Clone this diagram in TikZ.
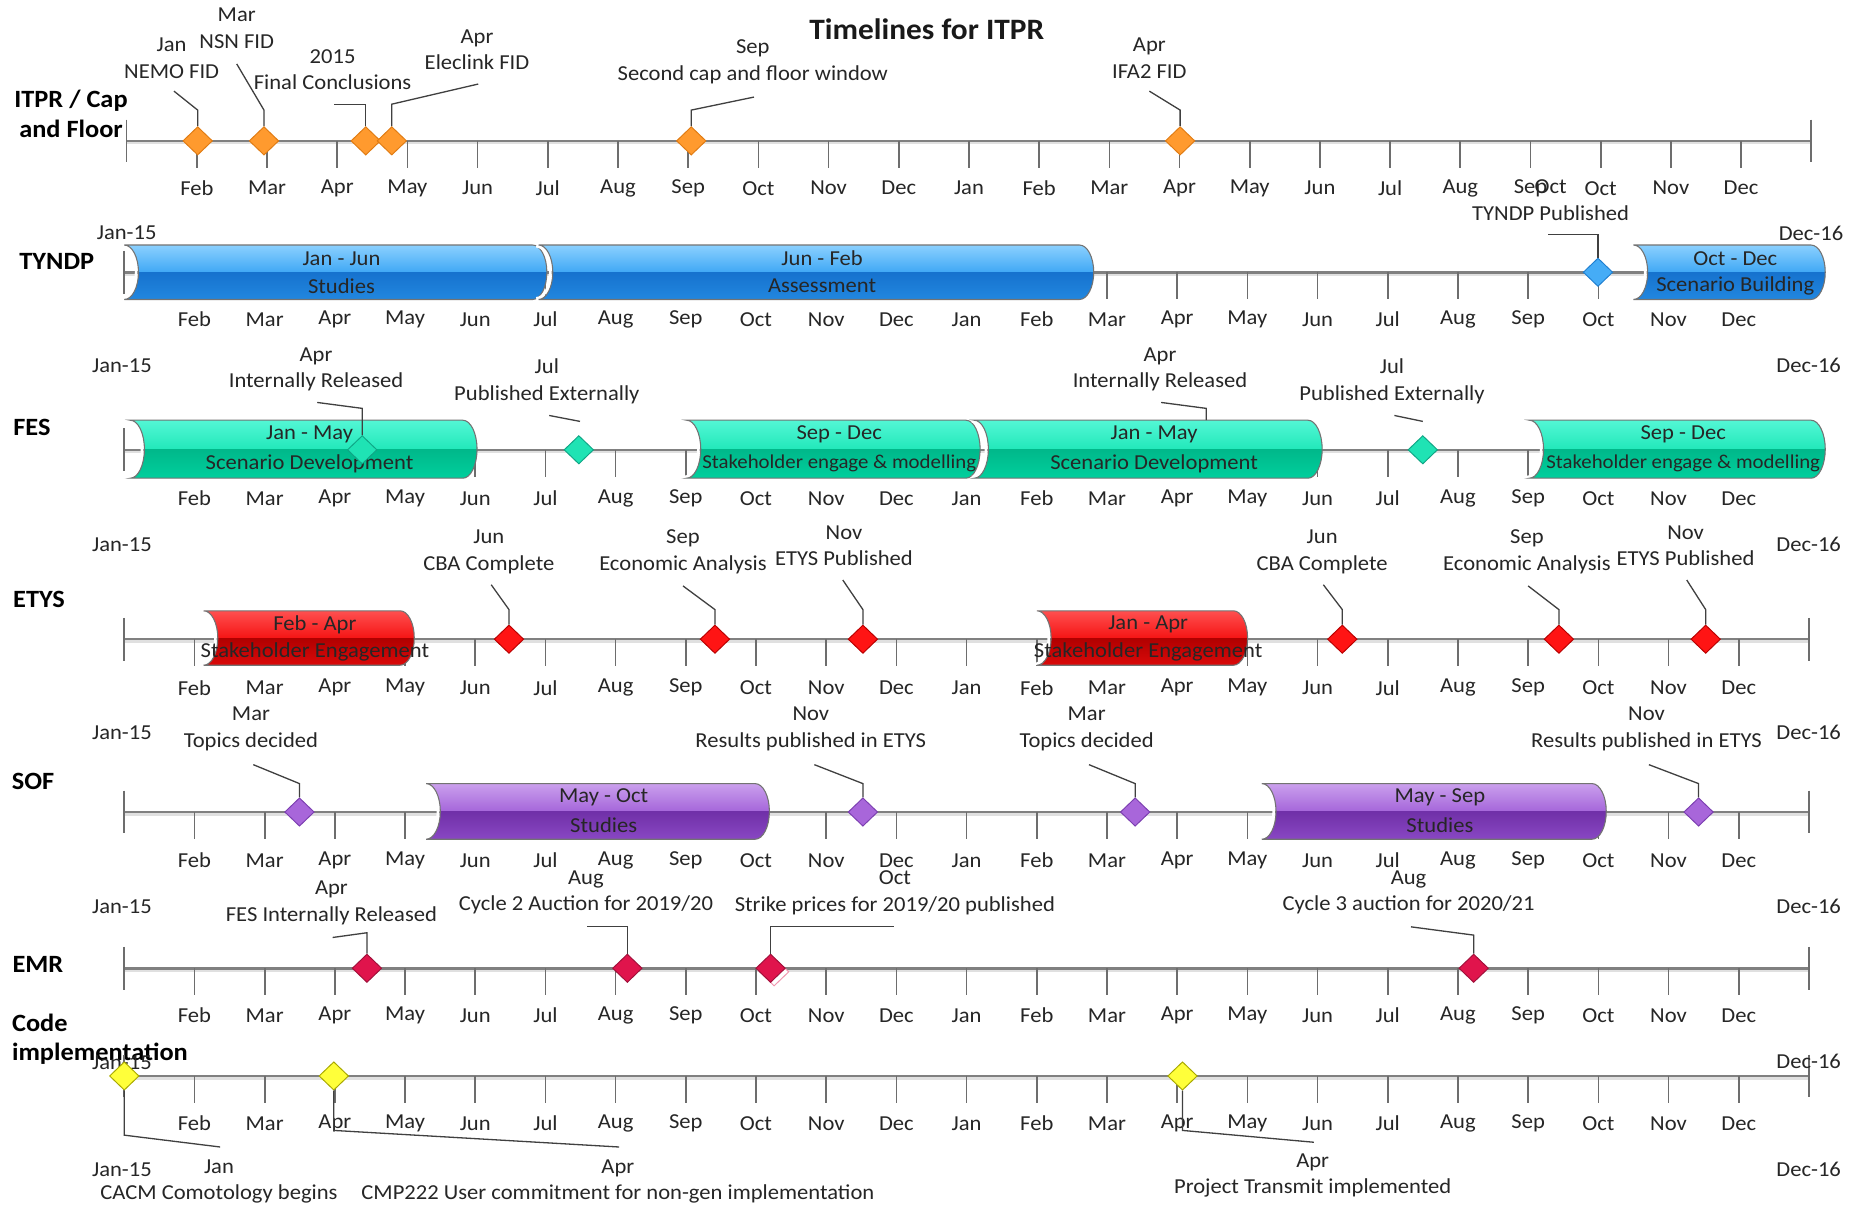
\documentclass[tikz,border=0pt]{standalone}
\usepackage{fontspec}
\setmainfont{Carlito}[FakeStretch=1.06]
\usetikzlibrary{shapes.geometric}
\definecolor{txt}{HTML}{262626}
\definecolor{axisc}{HTML}{808080}
\definecolor{leadc}{HTML}{404040}
\definecolor{orF}{HTML}{FF9A2E}\definecolor{orD}{HTML}{E07B12}
\definecolor{blF}{HTML}{45ACF6}\definecolor{blD}{HTML}{1F7FD0}
\definecolor{tlF}{HTML}{1FE3B4}\definecolor{tlD}{HTML}{0FA585}
\definecolor{rdF}{HTML}{FF1414}\definecolor{rdD}{HTML}{B80000}
\definecolor{puF}{HTML}{A866DA}\definecolor{puD}{HTML}{7B3EB0}
\definecolor{crF}{HTML}{E0144C}\definecolor{crD}{HTML}{A0103A}
\definecolor{yeF}{HTML}{FFFF3A}\definecolor{yeD}{HTML}{A8A800}
% bar colours
\definecolor{blT1}{HTML}{8ED2FF}\definecolor{blT2}{HTML}{40A8F5}\definecolor{blB1}{HTML}{1672CE}\definecolor{blB2}{HTML}{2288E0}
\definecolor{tlT1}{HTML}{55F7D6}\definecolor{tlT2}{HTML}{22E8BA}\definecolor{tlB1}{HTML}{00B88A}\definecolor{tlB2}{HTML}{00D09E}
\definecolor{rdT1}{HTML}{FF5252}\definecolor{rdT2}{HTML}{F51515}\definecolor{rdB1}{HTML}{B00000}\definecolor{rdB2}{HTML}{DC0A0A}
\definecolor{puT1}{HTML}{CCA2EE}\definecolor{puT2}{HTML}{A566DA}\definecolor{puB1}{HTML}{7030A8}\definecolor{puB2}{HTML}{8A48C4}
\newcommand\fs{\fontsize{18}{22.5}\selectfont}
\newcommand\fsm{\fontsize{16.6}{20}\selectfont}
\tikzset{
  mon/.style={font=\fs, text=txt, inner sep=0pt},
  lbl/.style={font=\fs, text=txt, inner sep=0pt, align=center},
  bartxt/.style={font=\fs, text=black!85, inner sep=0pt},
  rowlbl/.style={font=\fontsize{21}{25}\selectfont\bfseries, text=black, inner sep=0pt, align=center},
  axisl/.style={draw=axisc, line width=2.2pt},
  axshadow/.style={draw=black!12, line width=2pt},
  tickl/.style={draw=axisc!85!black, line width=1.4pt},
  lead/.style={draw=leadc, line width=1.1pt},
  dia/.style={diamond, draw=#1D, fill=#1F, minimum width=25pt, minimum height=24pt, inner sep=0pt, line width=0.8pt},
  baroutline/.style={draw=black!55, line width=0.9pt},
}
% axis row: name, x0, y axis, y labels
\newcommand\axisrow[4]{%
  \draw[axshadow] (#2,{#3+2}) -- ({#2+59.3*24},{#3+2});
  \draw[axisl] (#2,#3) -- ({#2+59.3*24},#3);
  \draw[tickl] (#2,{#3-18}) -- (#2,{#3+18});
  \draw[tickl] ({#2+59.3*24},{#3-18}) -- ({#2+59.3*24},{#3+18});
  \foreach \m/\t in {1/Feb,2/Mar,3/Apr,4/May,5/Jun,6/Jul,7/Aug,8/Sep,9/Oct,10/Nov,11/Dec,12/Jan,13/Feb,14/Mar,15/Apr,16/May,17/Jun,18/Jul,19/Aug,20/Sep,21/Oct,22/Nov,23/Dec}{%
    \draw[tickl] ({#2+59.3*\m},#3) -- ({#2+59.3*\m},{#3+23});
    \node[mon] (#1m\m) at ({#2+59.3*\m},#4) {\t};
  }%
}
% cylinder bar: name, x1, x2, yc, half height, colour prefix, top text, bottom text
\newcommand\cylbar[8]{%
  \begin{scope}
    \clip ({#2},{#4-#5}) -- ({#3-12},{#4-#5}) arc[start angle=-90,end angle=90,x radius=12,y radius=#5] -- ({#2},{#4+#5}) arc[start angle=90,end angle=-90,x radius=12,y radius=#5] -- cycle;
    \shade[top color=#6T1,bottom color=#6T2] ({#2-1},{#4-#5-1}) rectangle ({#3+1},{#4});
    \shade[top color=#6B1,bottom color=#6B2] ({#2-1},{#4}) rectangle ({#3+1},{#4+#5+1});
  \end{scope}
  \draw[white, line width=2.2pt] ({#2-2},{#4+#5-1}) arc[start angle=90,end angle=-90,x radius=12,y radius=#5-1];
  \draw[baroutline] ({#2},{#4-#5}) -- ({#3-12},{#4-#5}) arc[start angle=-90,end angle=90,x radius=12,y radius=#5] -- ({#2},{#4+#5}) arc[start angle=90,end angle=-90,x radius=12,y radius=#5] -- cycle;
  \node[bartxt] (#1t) at ({(#2+#3)/2+5},{#4-#5/2}) {#7};
  \node[bartxt] (#1b) at ({(#2+#3)/2+5},{#4+#5/2}) {#8};
}
% milestone with leader going up: name, colour, x, y, bend y, end x, end y
\newcommand\ms[7]{%
  \node[dia=#2] (d#1) at (#3,#4) {};
  \coordinate (c#1) at (#6,#7);
  \draw[lead] (d#1.north) -- (#3,#5) -- (c#1);
}
% milestone with leader going down
\newcommand\msd[7]{%
  \node[dia=#2] (d#1) at (#3,#4) {};
  \coordinate (c#1) at (#6,#7);
  \draw[lead] (d#1.south) -- (#3,#5) -- (c#1);
}
\begin{document}
\begin{tikzpicture}[x=1pt,y=-1pt]
\fill[white] (0,0) rectangle (1568,1018);
\useasboundingbox (0,0) rectangle (1568,1018);

\node[font=\fontsize{25}{30}\selectfont\bfseries, text=black!90, inner sep=0pt] (title) at (783,25) {Timelines for ITPR};

% ---------- row labels
\node[rowlbl] (rITPR) at (60,96) {ITPR / Cap\\and Floor};
\node[rowlbl] (rTYNDP) at (48,221) {TYNDP};
\node[rowlbl] (rFES) at (27,361) {FES};
\node[rowlbl] (rETYS) at (33,506) {ETYS};
\node[rowlbl] (rSOF) at (28,660) {SOF};
\node[rowlbl] (rEMR) at (32,815) {EMR};
\node[rowlbl, anchor=west, align=left] (rCODE) at (10,878) {Code\\implementation};

% ---------- axes
\axisrow{a}{107}{119}{159}
\axisrow{b}{105}{230}{270}
\axisrow{c}{105}{380}{421}
\axisrow{e}{105}{540}{581}
\axisrow{s}{105}{686}{727}
\axisrow{m}{105}{818}{858}
\axisrow{k}{105}{909}{949}

% ---------- Jan-15 / Dec-16
\node[mon] (j2) at (107,197) {Jan-15}; \node[mon] (e2) at (1530,197) {Dec-16};
\node[mon] (j3) at (103,309) {Jan-15}; \node[mon] (e3) at (1528,309) {Dec-16};
\node[mon] (j4) at (103,460) {Jan-15}; \node[mon] (e4) at (1528,460) {Dec-16};
\node[mon] (j5) at (103,619) {Jan-15}; \node[mon] (e5) at (1528,619) {Dec-16};
\node[mon] (j6) at (103,766) {Jan-15}; \node[mon] (e6) at (1528,766) {Dec-16};
\node[mon] (j7) at (103,898) {Jan-15}; \node[mon] (e7) at (1528,897) {Dec-16};
\node[mon] (j8) at (103,988) {Jan-15}; \node[mon] (e8) at (1528,988) {Dec-16};

% ---------- ITPR
\ms{A1}{or}{167}{119}{93}{147}{77}
\ms{A2}{or}{223}{119}{93}{200}{54}
\ms{A3}{or}{309}{119}{88}{282}{88}
\ms{A4}{or}{331}{119}{88}{404}{71}
\ms{A5}{or}{584}{119}{93}{637}{82}
\ms{A6}{or}{997}{119}{93}{971}{77}
\node[lbl] (tA1) at (145,49) {Jan\\NEMO FID};
\node[lbl] (tA2) at (200,24) {Mar\\NSN FID};
\node[lbl] (tA3) at (281,59) {2015\\Final Conclusions};
\node[lbl] (tA4) at (403,42) {Apr\\Eleclink FID};
\node[lbl] (tA5) at (636,52) {Sep\\Second cap and floor window};
\node[lbl] (tA6) at (971,49) {Apr\\IFA2 FID};

% ---------- TYNDP
\cylbar{B1}{105}{462}{230}{23}{bl}{Jan - Jun}{Studies}
\cylbar{B2}{455}{924}{230}{23}{bl}{Jun - Feb}{Assessment}
\cylbar{B3}{1380}{1542}{230}{23}{bl}{Oct - Dec}{Scenario Building}
\ms{B4}{bl}{1350}{230}{198}{1308}{198}
\node[lbl] (tB4) at (1310,169) {Oct\\TYNDP Published};

% ---------- FES
\cylbar{C1}{110}{403}{379.5}{24.5}{tl}{Jan - May}{Scenario Development}
\cylbar{C2}{580}{828}{379.5}{24.5}{tl}{Sep - Dec}{\fsm Stakeholder engage \& modelling}
\cylbar{C3}{823}{1117}{379.5}{24.5}{tl}{Jan - May}{Scenario Development}
\cylbar{C4}{1292}{1542}{379.5}{24.5}{tl}{Sep - Dec}{\fsm Stakeholder engage \& modelling}
\ms{C5}{tl}{306}{380}{345}{268}{340}
\node[dia=tl] (dC6) at (489,380) {};
\node[dia=tl] (dC7) at (1202,380) {};
\coordinate (pC6a) at (464,351); \coordinate (pC6b) at (490,356);
\draw[lead] (pC6a) -- (pC6b);
\coordinate (pC7a) at (1178,351); \coordinate (pC7b) at (1202,356);
\draw[lead] (pC7a) -- (pC7b);
\coordinate (pC8a) at (1019,355); \coordinate (pC8b) at (981,340);
\draw[lead] (pC8a) -- (1019,345) -- (pC8b);
\node[lbl] (tC5) at (267,312) {Apr\\Internally Released};
\node[lbl] (tC6) at (462,322) {Jul\\Published Externally};
\node[lbl] (tC8) at (980,312) {Apr\\Internally Released};
\node[lbl] (tC7) at (1176,322) {Jul\\Published Externally};

% ---------- ETYS
\cylbar{E1}{172}{350}{539}{23}{rd}{Feb - Apr}{Stakeholder Engagement}
\cylbar{E2}{876}{1054}{539}{23}{rd}{Jan - Apr}{Stakeholder Engagement}
\ms{E3}{rd}{430}{540}{515}{415}{494}
\ms{E4}{rd}{604}{540}{515}{577}{495}
\ms{E5}{rd}{729}{540}{515}{712}{490}
\ms{E6}{rd}{1134}{540}{515}{1118}{494}
\ms{E7}{rd}{1317}{540}{515}{1291}{495}
\ms{E8}{rd}{1441}{540}{515}{1425}{490}
\node[lbl] (tE3) at (413,466) {Jun\\CBA Complete};
\node[lbl] (tE4) at (577,466) {Sep\\Economic Analysis};
\node[lbl] (tE5) at (713,461) {Nov\\ETYS Published};
\node[lbl] (tE6) at (1117,466) {Jun\\CBA Complete};
\node[lbl] (tE7) at (1290,466) {Sep\\Economic Analysis};
\node[lbl] (tE8) at (1424,461) {Nov\\ETYS Published};

% ---------- SOF
\cylbar{S1}{360}{650}{685.5}{23.5}{pu}{May - Oct}{Studies}
\cylbar{S2}{1066}{1357}{685.5}{23.5}{pu}{May - Sep}{Studies}
\ms{S3}{pu}{253}{686}{662}{214}{646}
\ms{S4}{pu}{729}{686}{662}{688}{646}
\ms{S5}{pu}{959}{686}{662}{920}{646}
\ms{S6}{pu}{1435}{686}{662}{1393}{646}
\node[lbl] (tS3) at (212,616) {Mar\\Topics decided};
\node[lbl] (tS4) at (685,616) {Nov\\Results published in ETYS};
\node[lbl] (tS5) at (918,616) {Mar\\Topics decided};
\node[lbl] (tS6) at (1391,616) {Nov\\Results published in ETYS};

% ---------- EMR
\node[dia=cr, draw=crF!45, fill=white] (dM3s) at (654,821) {};
\ms{M1}{cr}{310}{818}{788}{281}{792}
\ms{M2}{cr}{530}{818}{783}{496}{783}
\ms{M3}{cr}{651}{818}{783}{755}{783}
\ms{M4}{cr}{1245}{818}{790}{1192}{783}
\node[lbl] (tM1) at (280,763) {Apr\\FES Internally Released};
\node[lbl] (tM2) at (495,754) {Aug\\Cycle 2 Auction for 2019/20};
\node[lbl] (tM3) at (756,754) {Oct\\Strike prices for 2019/20 published};
\node[lbl] (tM4) at (1190,754) {Aug\\Cycle 3 auction for 2020/21};

% ---------- Code implementation
\msd{K1}{ye}{105}{909}{959}{186}{969}
\msd{K2}{ye}{282}{909}{955}{523}{969}
\msd{K3}{ye}{999}{909}{955}{1110}{965}
\node[lbl] (tK1) at (185,998) {Jan\\CACM Comotology begins};
\node[lbl] (tK2) at (522,998) {Apr\\CMP222 User commitment for non-gen implementation};
\node[lbl] (tK3) at (1109,993) {Apr\\Project Transmit implemented};
\end{tikzpicture}
\end{document}
